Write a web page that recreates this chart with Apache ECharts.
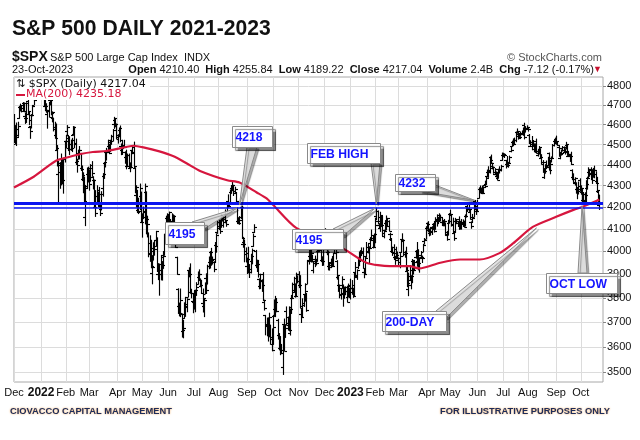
<!DOCTYPE html>
<html><head><meta charset="utf-8">
<script src="https://cdn.jsdelivr.net/npm/echarts@6/dist/echarts.min.js"></script>
<style>html,body{margin:0;padding:0;background:#fff}#c{width:640px;height:440px}</style>
</head><body><div id="c"></div>
<script>
// ---- Daily bars: [day, open, high, low, close] ----
const dec2021=[[1,4602,4652,4510,4513],[2,4504,4595,4504,4577],[3,4589,4608,4495,4538],[6,4548,4612,4541,4591],[7,4632,4694,4632,4686],[8,4690,4705,4670,4701],[9,4691,4695,4665,4667],[10,4687,4713,4671,4712],[13,4710,4711,4666,4669],[14,4642,4660,4606,4634],[15,4636,4712,4611,4709],[16,4720,4731,4651,4668],[17,4653,4666,4600,4621],[20,4587,4589,4531,4568],[21,4594,4651,4583,4649],[22,4650,4698,4645,4697],[23,4703,4740,4703,4726],[27,4733,4791,4733,4791],[28,4795,4807,4780,4786],[29,4788,4805,4778,4793],[30,4795,4808,4776,4778],[31,4775,4787,4766,4766]];
const jan2022=[[3,4778,4797,4758,4797],[4,4804,4819,4774,4793],[5,4787,4798,4699,4701],[6,4693,4726,4671,4696],[7,4698,4707,4663,4677],[10,4655,4673,4582,4670],[11,4670,4714,4638,4713],[12,4728,4749,4701,4726],[13,4733,4744,4650,4659],[14,4637,4665,4614,4663],[18,4632,4633,4568,4577],[19,4588,4612,4532,4533],[20,4548,4603,4475,4483],[21,4471,4495,4395,4398],[24,4357,4417,4223,4410],[25,4367,4411,4288,4357],[26,4408,4453,4304,4350],[27,4380,4429,4309,4327],[28,4336,4432,4265,4432],[31,4431,4516,4414,4516]];
const feb2022=[[1,4519,4546,4483,4546],[2,4567,4595,4544,4589],[3,4535,4542,4470,4477],[4,4482,4539,4451,4501],[7,4505,4522,4471,4484],[8,4480,4531,4465,4521],[9,4548,4590,4547,4587],[10,4553,4588,4484,4504],[11,4506,4527,4402,4419],[14,4412,4427,4365,4401],[15,4429,4472,4429,4472],[16,4456,4490,4429,4475],[17,4456,4456,4373,4380],[18,4385,4395,4327,4349],[22,4332,4362,4267,4305],[23,4325,4341,4221,4226],[24,4155,4295,4115,4289],[25,4298,4385,4287,4385],[28,4354,4389,4318,4374]];
const mar2022=[[1,4364,4375,4279,4306],[2,4322,4401,4322,4387],[3,4401,4416,4345,4363],[4,4342,4343,4285,4329],[7,4327,4327,4199,4201],[8,4202,4277,4157,4171],[9,4223,4300,4223,4278],[10,4252,4269,4206,4260],[11,4279,4292,4201,4204],[14,4203,4218,4161,4173],[15,4189,4272,4187,4262],[16,4288,4358,4251,4358],[17,4345,4412,4335,4412],[18,4407,4465,4390,4463],[21,4462,4481,4424,4461],[22,4469,4522,4469,4512],[23,4494,4501,4455,4456],[24,4469,4521,4466,4520],[25,4523,4546,4501,4543],[28,4541,4575,4517,4575],[29,4603,4637,4581,4632],[30,4624,4627,4589,4602],[31,4599,4603,4530,4530]];
const apr2022=[[1,4540,4549,4507,4546],[4,4547,4583,4539,4583],[5,4573,4593,4514,4525],[6,4495,4503,4450,4481],[7,4474,4521,4451,4500],[8,4494,4521,4485,4488],[11,4462,4464,4408,4413],[12,4437,4472,4381,4397],[13,4394,4453,4392,4447],[14,4449,4453,4392,4393],[18,4385,4410,4367,4392],[19,4390,4471,4386,4462],[20,4473,4489,4455,4460],[21,4489,4512,4385,4394],[22,4385,4386,4267,4272],[25,4256,4300,4200,4296],[26,4278,4278,4175,4175],[27,4187,4241,4170,4184],[28,4222,4308,4188,4288],[29,4253,4270,4129,4132]];
const may2022=[[2,4130,4169,4063,4155],[3,4159,4200,4147,4175],[4,4181,4308,4123,4300],[5,4271,4271,4078,4147],[6,4129,4158,4064,4123],[9,4081,4082,3976,3991],[10,4035,4069,3956,4001],[11,3990,4049,3928,3935],[12,3904,3981,3859,3930],[13,3963,4038,3963,4024],[16,4013,4046,3983,4008],[17,4052,4089,4022,4089],[18,4052,4060,3912,3923],[19,3899,3946,3877,3901],[20,3927,3944,3811,3901],[23,3919,3982,3876,3974],[24,3943,3955,3875,3941],[25,3929,3999,3926,3979],[26,3984,4076,3984,4058],[27,4077,4158,4077,4158],[31,4151,4169,4104,4132]];
const jun2022=[[1,4150,4166,4073,4101],[2,4096,4177,4074,4176],[3,4137,4143,4107,4109],[6,4135,4169,4109,4121],[7,4097,4164,4081,4161],[8,4147,4160,4107,4116],[9,4101,4119,4017,4018],[10,3974,3974,3900,3901],[13,3838,3838,3735,3750],[14,3764,3778,3725,3735],[15,3764,3837,3722,3790],[16,3733,3733,3639,3667],[17,3665,3707,3636,3675],[21,3715,3779,3715,3765],[22,3733,3802,3723,3760],[23,3775,3796,3742,3796],[24,3805,3914,3805,3912],[27,3920,3928,3889,3900],[28,3913,3945,3820,3821],[29,3826,3836,3800,3819],[30,3785,3818,3738,3785]];
const jul2022=[[1,3781,3829,3753,3825],[5,3792,3832,3742,3831],[6,3831,3864,3810,3845],[7,3858,3910,3858,3903],[8,3888,3919,3873,3899],[11,3880,3880,3847,3854],[12,3851,3874,3818,3819],[13,3779,3837,3741,3801],[14,3764,3796,3722,3790],[15,3818,3863,3818,3863],[18,3883,3902,3818,3831],[19,3860,3939,3860,3937],[20,3935,3975,3924,3960],[21,3955,3999,3927,3999],[22,3998,4013,3939,3962],[25,3965,3975,3944,3967],[26,3954,3954,3911,3921],[27,3951,4039,3951,4024],[28,4026,4078,3996,4072],[29,4087,4140,4080,4130]];
const aug2022=[[1,4113,4144,4097,4119],[2,4104,4140,4080,4091],[3,4108,4167,4108,4155],[4,4154,4161,4136,4152],[5,4116,4151,4108,4145],[8,4155,4187,4128,4140],[9,4133,4138,4112,4122],[10,4180,4211,4178,4210],[11,4227,4257,4200,4207],[12,4225,4280,4219,4280],[15,4270,4301,4264,4297],[16,4291,4325,4282,4305],[17,4281,4302,4254,4275],[18,4273,4293,4265,4284],[19,4267,4268,4221,4228],[22,4195,4196,4129,4138],[23,4134,4151,4124,4128],[24,4127,4156,4121,4141],[25,4153,4200,4147,4200],[26,4199,4204,4057,4058],[29,4034,4062,4018,4031],[30,4042,4050,3954,3986],[31,4000,4015,3955,3955]];
const sep2022=[[1,3936,3970,3903,3967],[2,3994,4018,3906,3924],[6,3930,3942,3886,3909],[7,3910,3987,3906,3980],[8,3959,4010,3945,4006],[9,4022,4077,4022,4067],[12,4084,4119,4084,4110],[13,4003,4004,3933,3933],[14,3940,3961,3912,3946],[15,3932,3960,3888,3901],[16,3880,3880,3838,3873],[19,3849,3900,3839,3900],[20,3876,3876,3827,3856],[21,3871,3907,3789,3790],[22,3782,3790,3749,3758],[23,3727,3727,3648,3693],[26,3682,3716,3644,3655],[27,3686,3717,3623,3647],[28,3651,3736,3640,3719],[29,3687,3687,3610,3640],[30,3633,3672,3584,3586]];
const oct2022=[[3,3610,3727,3610,3678],[4,3723,3791,3723,3791],[5,3755,3806,3722,3783],[6,3771,3797,3742,3745],[7,3707,3711,3631,3640],[10,3647,3653,3588,3612],[11,3595,3641,3569,3589],[12,3590,3608,3573,3577],[13,3520,3685,3492,3669],[14,3690,3712,3584,3583],[17,3638,3689,3638,3677],[18,3746,3762,3687,3720],[19,3696,3720,3667,3695],[20,3689,3762,3664,3666],[21,3657,3753,3647,3753],[24,3762,3810,3735,3798],[25,3799,3862,3799,3859],[26,3825,3887,3823,3830],[27,3834,3859,3803,3807],[28,3808,3905,3808,3901],[31,3882,3893,3863,3872]];
const nov2022=[[1,3901,3911,3843,3856],[2,3853,3894,3758,3759],[3,3733,3751,3698,3720],[4,3767,3796,3721,3771],[7,3780,3813,3764,3807],[8,3817,3859,3786,3828],[9,3810,3818,3744,3749],[10,3860,3958,3860,3957],[11,3963,4001,3944,3993],[14,3978,4009,3956,3957],[15,4006,4028,3953,3992],[16,3976,3983,3954,3959],[17,3919,3954,3906,3947],[18,3966,3979,3933,3965],[21,3957,3962,3940,3950],[22,3965,4004,3956,4003],[23,4001,4034,3998,4027],[25,4023,4035,4020,4026],[28,4005,4013,3955,3964],[29,3964,3976,3938,3958],[30,3957,4080,3939,4080]];
const dec2022=[[1,4087,4101,4057,4077],[2,4041,4080,4026,4072],[5,4053,4053,3985,3999],[6,3996,4001,3919,3941],[7,3934,3951,3918,3933],[8,3947,3966,3929,3964],[9,3954,3977,3933,3934],[12,3940,3991,3938,3991],[13,4070,4101,3994,4019],[14,4016,4053,3966,3996],[15,3958,3959,3879,3896],[16,3890,3890,3827,3852],[19,3853,3854,3800,3817],[20,3811,3838,3795,3821],[21,3840,3889,3840,3879],[22,3854,3854,3765,3822],[23,3815,3845,3798,3845],[27,3843,3846,3813,3829],[28,3829,3849,3783,3783],[29,3805,3858,3805,3849],[30,3830,3840,3801,3840]];
const jan2023=[[3,3853,3879,3795,3825],[4,3841,3873,3815,3853],[5,3840,3840,3802,3809],[6,3823,3906,3809,3895],[9,3910,3951,3890,3893],[10,3889,3919,3878,3919],[11,3932,3970,3925,3970],[12,3977,3997,3937,3983],[13,3960,4003,3955,3999],[17,3999,4015,3984,3991],[18,4002,4015,3926,3928],[19,3911,3922,3885,3899],[20,3910,3973,3900,3972],[23,3979,4039,3974,4020],[24,4001,4032,3993,4017],[25,3996,4020,3949,4016],[26,4036,4061,4013,4060],[27,4053,4095,4048,4071],[30,4050,4063,4015,4018],[31,4020,4077,4020,4077]];
const feb2023=[[1,4070,4148,4038,4119],[2,4158,4195,4142,4180],[3,4136,4182,4123,4136],[6,4120,4124,4105,4111],[7,4105,4176,4089,4164],[8,4153,4157,4111,4118],[9,4145,4157,4069,4082],[10,4068,4094,4060,4090],[13,4096,4138,4092,4137],[14,4126,4159,4096,4136],[15,4119,4148,4113,4148],[16,4115,4137,4091,4090],[17,4078,4081,4048,4079],[21,4053,4057,3995,3997],[22,4002,4018,3982,3991],[23,4018,4029,3964,4012],[24,3973,3978,3943,3970],[27,3992,4018,3973,3982],[28,3977,3997,3968,3970]];
const mar2023=[[1,3963,3971,3939,3951],[2,3938,3990,3928,3981],[3,3998,4048,3995,4046],[6,4055,4078,4045,4048],[7,4049,4051,3980,3986],[8,3987,4000,3974,3992],[9,3998,4018,3913,3918],[10,3912,3935,3847,3862],[13,3835,3905,3809,3856],[14,3894,3938,3874,3920],[15,3876,3894,3838,3892],[16,3878,3964,3864,3960],[17,3958,3959,3901,3917],[20,3917,3956,3917,3951],[21,3975,4003,3970,4003],[22,4002,4039,3936,3937],[23,3959,4007,3919,3949],[24,3939,3972,3909,3971],[27,3982,3999,3970,3977],[28,3975,3979,3951,3971],[29,3999,4031,3999,4028],[30,4046,4057,4032,4051],[31,4056,4110,4056,4109]];
const apr2023=[[3,4102,4127,4099,4124],[4,4128,4133,4087,4101],[5,4094,4099,4069,4091],[6,4082,4107,4072,4105],[10,4085,4110,4075,4109],[11,4110,4124,4098,4108],[12,4121,4134,4086,4092],[13,4100,4151,4099,4146],[14,4140,4164,4113,4138],[17,4137,4152,4124,4152],[18,4164,4169,4140,4154],[19,4139,4163,4136,4155],[20,4131,4149,4115,4130],[21,4133,4138,4114,4134],[24,4132,4143,4114,4137],[25,4127,4127,4071,4071],[26,4088,4089,4049,4056],[27,4076,4139,4072,4135],[28,4129,4170,4127,4169]];
const may2023=[[1,4166,4186,4164,4167],[2,4164,4165,4113,4119],[3,4123,4149,4088,4091],[4,4082,4083,4049,4061],[5,4084,4148,4084,4136],[8,4136,4143,4124,4138],[9,4125,4131,4111,4119],[10,4143,4155,4098,4138],[11,4132,4133,4099,4131],[12,4138,4143,4099,4124],[15,4126,4141,4111,4136],[16,4127,4135,4109,4110],[17,4122,4164,4113,4158],[18,4157,4202,4154,4198],[19,4204,4213,4180,4192],[22,4190,4209,4180,4193],[23,4176,4186,4145,4146],[24,4132,4132,4103,4115],[25,4155,4166,4129,4151],[26,4156,4213,4155,4205],[30,4226,4231,4192,4206],[31,4191,4195,4166,4180]];
const jun2023=[[1,4183,4232,4181,4221],[2,4242,4290,4242,4282],[5,4283,4299,4266,4273],[6,4270,4289,4264,4283],[7,4285,4299,4263,4268],[8,4268,4295,4266,4293],[9,4305,4322,4292,4299],[12,4308,4340,4306,4338],[13,4345,4375,4342,4369],[14,4366,4391,4340,4373],[15,4366,4439,4361,4426],[16,4440,4448,4407,4410],[20,4396,4408,4381,4389],[21,4387,4390,4360,4366],[22,4355,4382,4353,4381],[23,4354,4366,4342,4348],[26,4345,4363,4328,4329],[27,4338,4379,4337,4378],[28,4367,4391,4361,4377],[29,4375,4398,4371,4396],[30,4422,4458,4422,4450]];
const jul2023=[[3,4450,4457,4442,4455],[5,4442,4454,4436,4446],[6,4422,4422,4385,4411],[7,4404,4441,4398,4399],[10,4394,4412,4389,4409],[11,4416,4443,4408,4439],[12,4467,4488,4464,4472],[13,4491,4517,4491,4510],[14,4514,4528,4494,4505],[17,4508,4532,4504,4523],[18,4521,4563,4514,4555],[19,4563,4578,4557,4566],[20,4554,4565,4527,4535],[21,4544,4555,4532,4536],[24,4543,4563,4542,4554],[25,4555,4568,4551,4567],[26,4558,4583,4546,4566],[27,4598,4607,4528,4537],[28,4565,4590,4564,4582],[31,4585,4594,4577,4589]];
const aug2023=[[1,4578,4585,4567,4577],[2,4550,4550,4505,4513],[3,4494,4519,4490,4502],[4,4514,4540,4474,4478],[7,4492,4520,4491,4518],[8,4498,4503,4464,4499],[9,4502,4503,4461,4467],[10,4487,4527,4457,4468],[11,4450,4476,4443,4464],[14,4458,4490,4453,4490],[15,4479,4479,4432,4437],[16,4433,4450,4404,4404],[17,4416,4421,4364,4370],[18,4344,4382,4335,4370],[21,4381,4401,4360,4400],[22,4416,4419,4382,4388],[23,4397,4437,4397,4436],[24,4456,4458,4376,4376],[25,4389,4418,4357,4406],[28,4426,4439,4414,4433],[29,4432,4500,4431,4497],[30,4500,4521,4493,4515],[31,4517,4532,4507,4508]];
const sep2023=[[1,4530,4542,4501,4516],[5,4510,4514,4496,4497],[6,4490,4490,4442,4465],[7,4434,4457,4430,4451],[8,4452,4473,4448,4457],[11,4481,4490,4468,4487],[12,4473,4488,4461,4462],[13,4463,4479,4453,4467],[14,4487,4511,4478,4505],[15,4497,4497,4447,4450],[18,4445,4466,4442,4453],[19,4445,4451,4417,4444],[20,4452,4462,4402,4402],[21,4375,4376,4329,4330],[22,4342,4357,4316,4320],[25,4311,4338,4303,4337],[26,4312,4314,4265,4274],[27,4283,4292,4239,4274],[28,4270,4318,4261,4300],[29,4328,4333,4274,4288]];
const oct2023=[[2,4284,4300,4260,4288],[3,4270,4282,4216,4229],[4,4234,4268,4220,4263],[5,4260,4267,4225,4258],[6,4234,4324,4219,4308],[9,4289,4341,4284,4336],[10,4339,4386,4339,4358],[11,4367,4378,4345,4376],[12,4380,4386,4329,4349],[13,4360,4377,4311,4327],[16,4342,4383,4342,4373],[17,4346,4394,4338,4373],[18,4357,4367,4311,4314],[19,4321,4340,4268,4278],[20,4274,4276,4224,4224],[23,4210.40,4255.84,4189.22,4217.04]];
const months=[['2021-12',dec2021],['2022-01',jan2022],['2022-02',feb2022],['2022-03',mar2022],['2022-04',apr2022],['2022-05',may2022],['2022-06',jun2022],['2022-07',jul2022],['2022-08',aug2022],['2022-09',sep2022],['2022-10',oct2022],['2022-11',nov2022],['2022-12',dec2022],['2023-01',jan2023],['2023-02',feb2023],['2023-03',mar2023],['2023-04',apr2023],['2023-05',may2023],['2023-06',jun2023],['2023-07',jul2023],['2023-08',aug2023],['2023-09',sep2023],['2023-10',oct2023]];
// ---- 200-day moving average ----
const maDates=['2021-12-01','2021-12-23','2022-01-12','2022-01-21','2022-02-02','2022-02-17','2022-03-04','2022-03-21','2022-04-05','2022-04-21','2022-05-03','2022-05-20','2022-06-07','2022-06-23','2022-07-11','2022-08-10','2022-08-24','2022-09-14','2022-09-26','2022-10-03','2022-10-28','2022-12-22','2023-01-23','2023-02-17','2023-03-14','2023-03-24','2023-04-19','2023-05-11','2023-06-05','2023-06-28','2023-07-14','2023-08-07','2023-09-01','2023-09-22','2023-10-04','2023-10-19','2023-10-23'];
const maValues=[4292,4343,4400,4423,4436,4453,4463,4468,4481,4494,4486,4466,4443,4408,4371,4326,4315,4268,4240,4212,4105,4012,3950,3935,3935,3925,3950,3964,3964,3992,4035,4109,4155,4187,4203,4229,4235.18];
// ---- Horizontal levels ----
const levels=[4218,4195];
// ---- Axis ticks ----
const yTicks=[3500,3600,3700,3800,3900,4000,4100,4200,4300,4400,4500,4600,4700,4800];
const monthNames=['Jan','Feb','Mar','Apr','May','Jun','Jul','Aug','Sep','Oct','Nov','Dec'];
// ---- Annotations: label, anchor date, anchor value ----
const noteText=['4218','4195','FEB HIGH','4195','4232','200-DAY','OCT LOW'];
const noteDate=['2022-08-24','2022-08-22','2023-02-02','2023-02-01','2023-05-30','2023-08-10','2023-10-03'];
const noteValue=[4210,4195,4214,4195,4231,4104,4205];

const dates=[], bars=[];
months.forEach(([ym,arr])=>arr.forEach(r=>{const d=ym+'-'+String(r[0]).padStart(2,'0');dates.push(d);bars.push([d,r[1],r[2],r[3],r[4]]);}));
const firstOfMonth=new Set();
let prevM=null;
dates.forEach(d=>{const m=d.slice(0,7);if(m!==prevM){firstOfMonth.add(d);prevM=m;}});
const isMonthStart=(i,v)=>firstOfMonth.has(v);

const chart=echarts.init(document.getElementById('c'),null,{renderer:'canvas'});
const FONT='"Liberation Sans", Arial, sans-serif';
const option={
  animation:false,
  grid:{left:14,right:37,top:77,bottom:58,show:true,borderColor:'#a8a8a8',borderWidth:1,backgroundColor:'#fff'},
  xAxis:{type:'category',data:dates,boundaryGap:false,max:477.8,
    axisLine:{show:false},
    axisTick:{show:false,interval:isMonthStart},
    splitLine:{show:true,interval:isMonthStart,lineStyle:{color:'#dcdcdc',width:1}},
    axisLabel:{interval:isMonthStart,margin:5,color:'#111',fontFamily:FONT,fontSize:11,
      formatter:v=>{const y=v.slice(0,4),m=+v.slice(5,7);return m===1?'{y|'+y+'}':monthNames[m-1];},
      rich:{y:{fontWeight:'bold',fontSize:12,fontFamily:FONT,color:'#111'}}}},
  yAxis:{type:'log',logBase:10,min:3463,max:4848,position:'right',
    axisLine:{show:false},
    axisTick:{show:true,length:3,inside:false,customValues:yTicks,lineStyle:{color:'#888'}},
    splitLine:{show:true,lineStyle:{color:'#dcdcdc',width:1}},
    axisLabel:{customValues:yTicks,margin:4,color:'#111',fontFamily:FONT,fontSize:11,formatter:v=>String(Math.round(v))}},
  series:[
    {type:'custom',name:'SPX',data:bars,encode:{x:0,y:[1,2,3,4]},z:2,clip:true,
      renderItem:(params,api)=>{
        const i=api.value(0);
        const o=api.coord([i,api.value(1)]),h=api.coord([i,api.value(2)]),l=api.coord([i,api.value(3)]),c=api.coord([i,api.value(4)]);
        const x=Math.round(h[0])+0.5;
        const st={stroke:'#000',lineWidth:1.15};
        return {type:'group',children:[
          {type:'line',shape:{x1:x,y1:h[1]-0.5,x2:x,y2:l[1]+0.5},style:st},
          {type:'line',shape:{x1:x-2.5,y1:Math.round(o[1])+0.5,x2:x,y2:Math.round(o[1])+0.5},style:st},
          {type:'line',shape:{x1:x,y1:Math.round(c[1])+0.5,x2:x+2.5,y2:Math.round(c[1])+0.5},style:st}]};
      }},
    {type:'line',name:'levels',data:[],z:3,silent:true,
      markLine:{silent:true,symbol:'none',label:{show:false},animation:false,
        data:[{yAxis:levels[0],lineStyle:{color:'#0a14f0',width:3,type:'solid'}},{yAxis:levels[1],lineStyle:{color:'#0a14f0',width:1.6,type:'solid'}}]}},
    {type:'line',name:'MA(200)',data:maDates.map((d,i)=>[d,maValues[i]]),smooth:0.25,showSymbol:false,z:4,
      lineStyle:{color:'#d6163e',width:2.2}}
  ]
};
chart.setOption(option);

// ---- Annotation layout (pixels) ----
const boxes=[[232,126,40,21],[165,222,39,22],[307,143,73,20],[292,229,51,20],[395,174,40,17],[382,311,64,20],[546,273,71,20]];
const tails=[[[247,147],[257,147]],[[192,222],[204,229]],[[371,163],[380,163]],[[333,229],[343,236]],[[420,191],[435,185]],[[436,311],[446,318]],[[578,273],[587,273]]];
const g=[];
// header
g.push({type:'text',x:12,y:18,z:100,scaleX:0.96,style:{text:'S&P 500 DAILY 2021-2023',font:'bold 22px '+FONT,fill:'#111',verticalAlign:'top'}});
g.push({type:'text',left:12,top:50,z:100,style:{text:'$SPX',font:'bold 14px '+FONT,fill:'#111'}});
g.push({type:'text',left:50,top:52,z:100,style:{text:'S&P 500 Large Cap Index  INDX',font:'11px '+FONT,fill:'#111'}});
g.push({type:'text',left:507,top:52,z:100,style:{text:'© StockCharts.com',font:'11px '+FONT,fill:'#555'}});
g.push({type:'text',left:12,top:64,z:100,style:{text:'23-Oct-2023',font:'11px '+FONT,fill:'#111'}});
g.push({type:'text',right:46,top:64,z:100,style:{text:'{b|Open} 4210.40  {b|High} 4255.84  {b|Low} 4189.22  {b|Close} 4217.04  {b|Volume} 2.4B  {b|Chg} -7.12 (-0.17%)',font:'11px '+FONT,fill:'#111',rich:{b:{fontWeight:'bold',fontSize:11,fontFamily:FONT,fill:'#111'}}}});
g.push({type:'text',left:593,top:65,z:100,style:{text:'▼',font:'9px '+FONT,fill:'#c8102e'}});
// in-plot legend
g.push({type:'rect',shape:{x:15,y:78,width:135,height:22},z:50,style:{fill:'#fff'}});
g.push({type:'text',left:16,top:79,z:100,style:{text:'⇅ $SPX (Daily) 4217.04',font:'11px "DejaVu Sans", sans-serif',fill:'#111'}});
g.push({type:'rect',shape:{x:16,y:94,width:9,height:2},z:100,style:{fill:'#d6163e'}});
g.push({type:'text',left:26,top:89,z:100,style:{text:'MA(200) 4235.18',font:'11px "DejaVu Sans", sans-serif',fill:'#d6163e'}});
// footer
g.push({type:'text',left:10,top:407,z:100,style:{text:'CIOVACCO CAPITAL MANAGEMENT',font:'bold 9.3px '+FONT,fill:'#1c2c5b',textShadowColor:'#f2a24a',textShadowBlur:2}});
g.push({type:'text',left:440,top:407,z:100,style:{text:'FOR ILLUSTRATIVE PURPOSES ONLY',font:'bold 9.3px '+FONT,fill:'#1c2c5b',textShadowColor:'#f2a24a',textShadowBlur:2}});
// callouts
noteText.forEach((t,i)=>{
  const tip=chart.convertToPixel({gridIndex:0},[noteDate[i],noteValue[i]]);
  const b=boxes[i],tl=tails[i];
  g.push({type:'polygon',z:60,shape:{points:[tl[0],tip,tl[1]]},style:{fill:'rgba(225,225,225,0.9)',stroke:'#8a8a8a',lineWidth:1,shadowColor:'rgba(0,0,0,0.35)',shadowOffsetX:2,shadowOffsetY:2,shadowBlur:1}});
  g.push({type:'rect',z:61,shape:{x:b[0]+0.5,y:b[1]+0.5,width:b[2],height:b[3]},style:{fill:'#fff',stroke:'#8a8a8a',lineWidth:1,shadowColor:'rgba(0,0,0,0.45)',shadowOffsetX:3,shadowOffsetY:3,shadowBlur:1}});
  g.push({type:'text',z:62,x:b[0]+3.5,y:b[1]+b[3]/2+1,scaleX:0.9,style:{text:t,font:'bold 13.5px '+FONT,fill:'#1414ff',verticalAlign:'middle',align:'left'}});
});
chart.setOption({graphic:g});
</script></body></html>
